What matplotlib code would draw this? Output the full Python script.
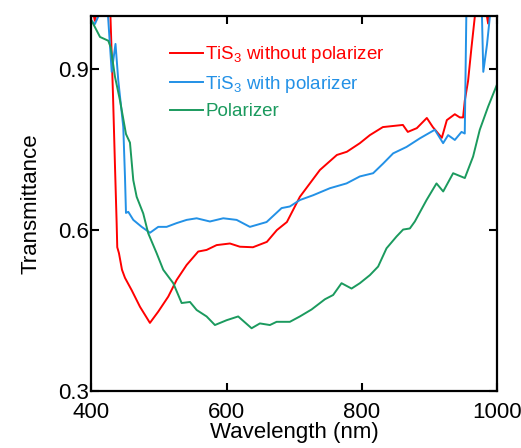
import matplotlib
matplotlib.use("Agg")
import matplotlib.pyplot as plt

plt.rcParams['font.family'] = ['Liberation Sans', 'DejaVu Sans']
plt.rcParams['mathtext.fontset'] = 'custom'
plt.rcParams['mathtext.rm'] = 'Liberation Sans'
plt.rcParams['mathtext.it'] = 'Liberation Sans'

# TiS3 without polarizer
wl_red = [400, 405, 410, 420, 428, 431.8, 434.7, 437.2, 438.1, 440.6, 445.1, 449.5,
          459.4, 471.7, 486.4, 498.7, 513.5, 525.9, 540.7, 557.8, 570.2, 585.0,
          604.7, 619.4, 638.7, 659.3, 674.1, 688.9, 708.1, 737.7, 762.8, 777.6,
          796.8, 811.6, 830.8, 860.4, 867.7, 881.0, 895.8, 904.7, 918.0, 925.4,
          937.2, 944.6, 949.4, 951.9, 956.8, 961.8, 966.7, 975, 982, 986.4, 991,
          1000]
t_red = [1.02, 0.99, 1.02, 1.05, 1.00, 0.852, 0.721, 0.613, 0.568, 0.557, 0.526,
         0.511, 0.488, 0.457, 0.427, 0.448, 0.476, 0.507, 0.535, 0.560, 0.563,
         0.572, 0.575, 0.569, 0.568, 0.578, 0.600, 0.615, 0.662, 0.712, 0.740,
         0.746, 0.762, 0.777, 0.792, 0.796, 0.783, 0.790, 0.809, 0.792, 0.772,
         0.805, 0.816, 0.810, 0.810, 0.841, 0.878, 0.940, 0.997, 1.04, 1.02,
         0.985, 1.03, 1.05]

# TiS3 with polarizer
wl_blue = [400, 405, 409.6, 412, 421, 424.4, 429.9, 435.5, 439.6, 447.0, 449.5,
           451.0, 454.4, 461.8, 474.2, 486.5, 498.7, 511.1, 525.9, 540.7, 555.5,
           575.1, 594.8, 614.6, 634.2, 658.9, 681.1, 693.3, 708.1, 727.8, 752.4,
           777.1, 796.8, 816.4, 831.2, 846.0, 865.8, 885.5, 907.6, 919.9, 927.3,
           937.2, 947.1, 951.9, 954.2, 960, 972, 977.3, 979.3, 984.8, 989.2, 995,
           1000]
t_blue = [0.99, 0.984, 0.997, 1.02, 1.02, 1.00, 0.895, 0.947, 0.879, 0.792, 0.700,
          0.632, 0.634, 0.619, 0.606, 0.595, 0.606, 0.606, 0.613, 0.619, 0.622,
          0.616, 0.622, 0.619, 0.606, 0.615, 0.641, 0.644, 0.656, 0.665, 0.678,
          0.687, 0.700, 0.706, 0.724, 0.743, 0.755, 0.771, 0.787, 0.762, 0.777,
          0.768, 0.783, 0.780, 1.00, 1.05, 1.05, 1.00, 0.895, 0.946, 1.00, 1.04,
          1.05]

# Polarizer alone
wl_green = [400.3, 412.6, 424.8, 428.4, 434.7, 442.1, 451.0, 456.9, 461.8, 466.8,
            476.5, 483.9, 496.3, 506.1, 520.9, 533.3, 545.6, 555.5, 570.2, 582.5,
            599.8, 616.9, 636.7, 649.0, 663.8, 673.7, 693.3, 708.1, 725.4, 745.1,
            757.3, 769.7, 784.5, 796.8, 811.6, 823.8, 836.2, 851.0, 860.8, 870.7,
            878.1, 895.4, 910.1, 920.0, 934.7, 952.0, 964.2, 974.1, 986.4, 998.8]
t_green = [0.99, 0.960, 0.953, 0.941, 0.886, 0.842, 0.779, 0.763, 0.693, 0.662,
           0.631, 0.594, 0.557, 0.526, 0.501, 0.464, 0.466, 0.451, 0.439, 0.423,
           0.432, 0.439, 0.417, 0.426, 0.423, 0.429, 0.429, 0.439, 0.452, 0.471,
           0.479, 0.501, 0.491, 0.501, 0.516, 0.532, 0.566, 0.588, 0.601, 0.603,
           0.616, 0.656, 0.687, 0.672, 0.706, 0.697, 0.737, 0.787, 0.830, 0.869]

labels = [r"TiS$_3$ without polarizer", r"TiS$_3$ with polarizer", "Polarizer"]
colors = ["#ff0000", "#2391e6", "#1b9a5e"]
x_ticks = [400, 600, 800, 1000]
y_ticks = [0.3, 0.6, 0.9]

fig = plt.figure(figsize=(5.21, 4.48), dpi=100)
ax = fig.add_axes([0.1756, 0.1272, 0.7789, 0.8382])

for wl, t, lab, c in zip([wl_red, wl_blue, wl_green], [t_red, t_blue, t_green],
                         labels, colors):
    ax.plot(wl, t, color=c, lw=1.4, label=lab)

ax.set_xlim(400, 1000)
ax.set_ylim(0.3, 1.0)
ax.set_xticks(x_ticks)
ax.set_yticks(y_ticks)
ax.set_yticklabels([f"{v:.1f}" for v in y_ticks])
ax.tick_params(direction="in", length=6, width=1.5, labelsize=16,
               top=True, right=True)
ax.tick_params(axis="x", pad=8)
ax.tick_params(axis="y", pad=2)
for s in ax.spines.values():
    s.set_linewidth(1.6)

ax.set_xlabel("Wavelength (nm)", fontsize=16, labelpad=-1)
ax.set_ylabel("Transmittance", fontsize=16, labelpad=12)

leg = ax.legend(loc="upper left", bbox_to_anchor=(0.153, 0.968), frameon=False,
                fontsize=13.5, handlelength=1.75, handletextpad=0.1,
                labelspacing=0.45, labelcolor="linecolor")

fig.savefig("out.png", dpi=100)
